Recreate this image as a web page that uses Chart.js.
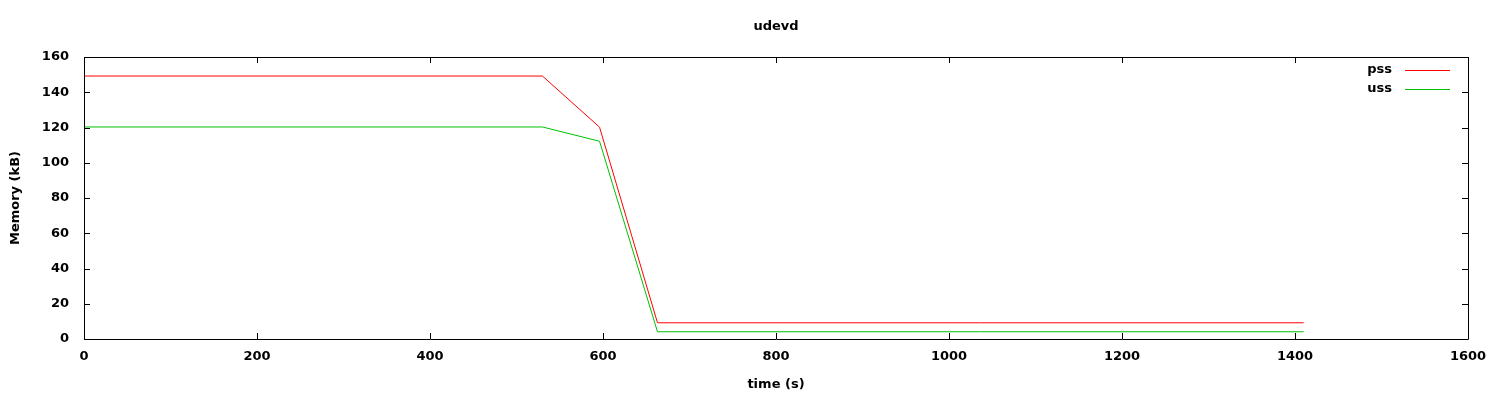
<!DOCTYPE html>
<html>
<head>
<meta charset="utf-8">
<script src="https://cdn.jsdelivr.net/npm/chart.js@4"></script>
<style>
    body { margin: 0; background: #fff; }
    .wrap { width: 1500px; height: 400px; }
</style>
</head>
<body>
<div class="wrap"><canvas id="chart" width="1500" height="400"></canvas></div>
<script>
// values
const timeSec = [0, 530, 596, 663, 1410];
const pssKB = [149.2, 149.2, 120.2, 9.2, 9.2];
const ussKB = [120.3, 120.3, 112.2, 4.1, 4.1];
const xTicks = [0, 200, 400, 600, 800, 1000, 1200, 1400, 1600];
const yTicks = [0, 20, 40, 60, 80, 100, 120, 140, 160];

const FONT = 'bold 13px "DejaVu Sans", sans-serif';

function points(xs, ys) {
    return xs.map((x, i) => ({ x: x, y: ys[i] }));
}

// gnuplot-like frame: box, inward ticks on all sides, labels, legend
const framePlugin = {
    id: 'frame',
    afterDraw(chart) {
        const ctx = chart.ctx;
        const a = chart.chartArea;
        const xs = chart.scales.x;
        const ys = chart.scales.y;
        ctx.save();
        ctx.strokeStyle = '#000';
        ctx.lineWidth = 1;
        ctx.beginPath();
        ctx.rect(Math.round(a.left) + 0.5, Math.round(a.top) + 0.5,
                 Math.round(a.right - a.left), Math.round(a.bottom - a.top));
        xTicks.forEach(v => {
            const px = Math.round(xs.getPixelForValue(v)) + 0.5;
            ctx.moveTo(px, a.bottom); ctx.lineTo(px, a.bottom - 6);
            ctx.moveTo(px, a.top); ctx.lineTo(px, a.top + 6);
        });
        yTicks.forEach(v => {
            const py = Math.round(ys.getPixelForValue(v)) + 0.5;
            ctx.moveTo(a.left, py); ctx.lineTo(a.left + 6, py);
            ctx.moveTo(a.right, py); ctx.lineTo(a.right - 6, py);
        });
        ctx.stroke();

        ctx.fillStyle = '#000';
        ctx.font = FONT;
        ctx.textBaseline = 'middle';
        ctx.textAlign = 'right';
        yTicks.forEach(v => {
            ctx.fillText(String(v), a.left - 15, ys.getPixelForValue(v));
        });
        ctx.textAlign = 'center';
        xTicks.forEach(v => {
            ctx.fillText(String(v), xs.getPixelForValue(v), a.bottom + 18);
        });

        // titles
        ctx.fillText('udevd', (a.left + a.right) / 2, 27);
        ctx.fillText('time (s)', (a.left + a.right) / 2, 385);
        ctx.save();
        ctx.translate(16, (a.top + a.bottom) / 2);
        ctx.rotate(-Math.PI / 2);
        ctx.fillText('Memory (kB)', 0, 0);
        ctx.restore();

        // legend
        chart.data.datasets.forEach((ds, i) => {
            const y = 70 + i * 19;
            ctx.textAlign = 'right';
            ctx.fillText(ds.label, 1392, y);
            ctx.strokeStyle = ds.borderColor;
            ctx.beginPath();
            ctx.moveTo(1405, y + 0.5);
            ctx.lineTo(1450, y + 0.5);
            ctx.stroke();
        });
        ctx.restore();
    }
};

new Chart(document.getElementById('chart'), {
    type: 'line',
    data: {
        datasets: [
            {
                label: 'pss',
                data: points(timeSec, pssKB),
                borderColor: '#ff0000',
                borderWidth: 1,
                pointRadius: 0,
                fill: false,
                tension: 0
            },
            {
                label: 'uss',
                data: points(timeSec, ussKB),
                borderColor: '#00c000',
                borderWidth: 1,
                pointRadius: 0,
                fill: false,
                tension: 0
            }
        ]
    },
    options: {
        responsive: false,
        animation: false,
        events: [],
        layout: { padding: { top: 57, right: 32, left: 0, bottom: 0 } },
        plugins: {
            legend: { display: false },
            title: { display: false },
            tooltip: { enabled: false }
        },
        scales: {
            x: {
                type: 'linear',
                min: 0,
                max: 1600,
                grid: { display: false },
                border: { display: false },
                ticks: { display: false },
                afterFit(scale) { scale.height = 61; }
            },
            y: {
                min: 0,
                max: 160,
                grid: { display: false },
                border: { display: false },
                ticks: { display: false },
                afterFit(scale) { scale.width = 84; }
            }
        }
    },
    plugins: [framePlugin]
});
</script>
</body>
</html>
